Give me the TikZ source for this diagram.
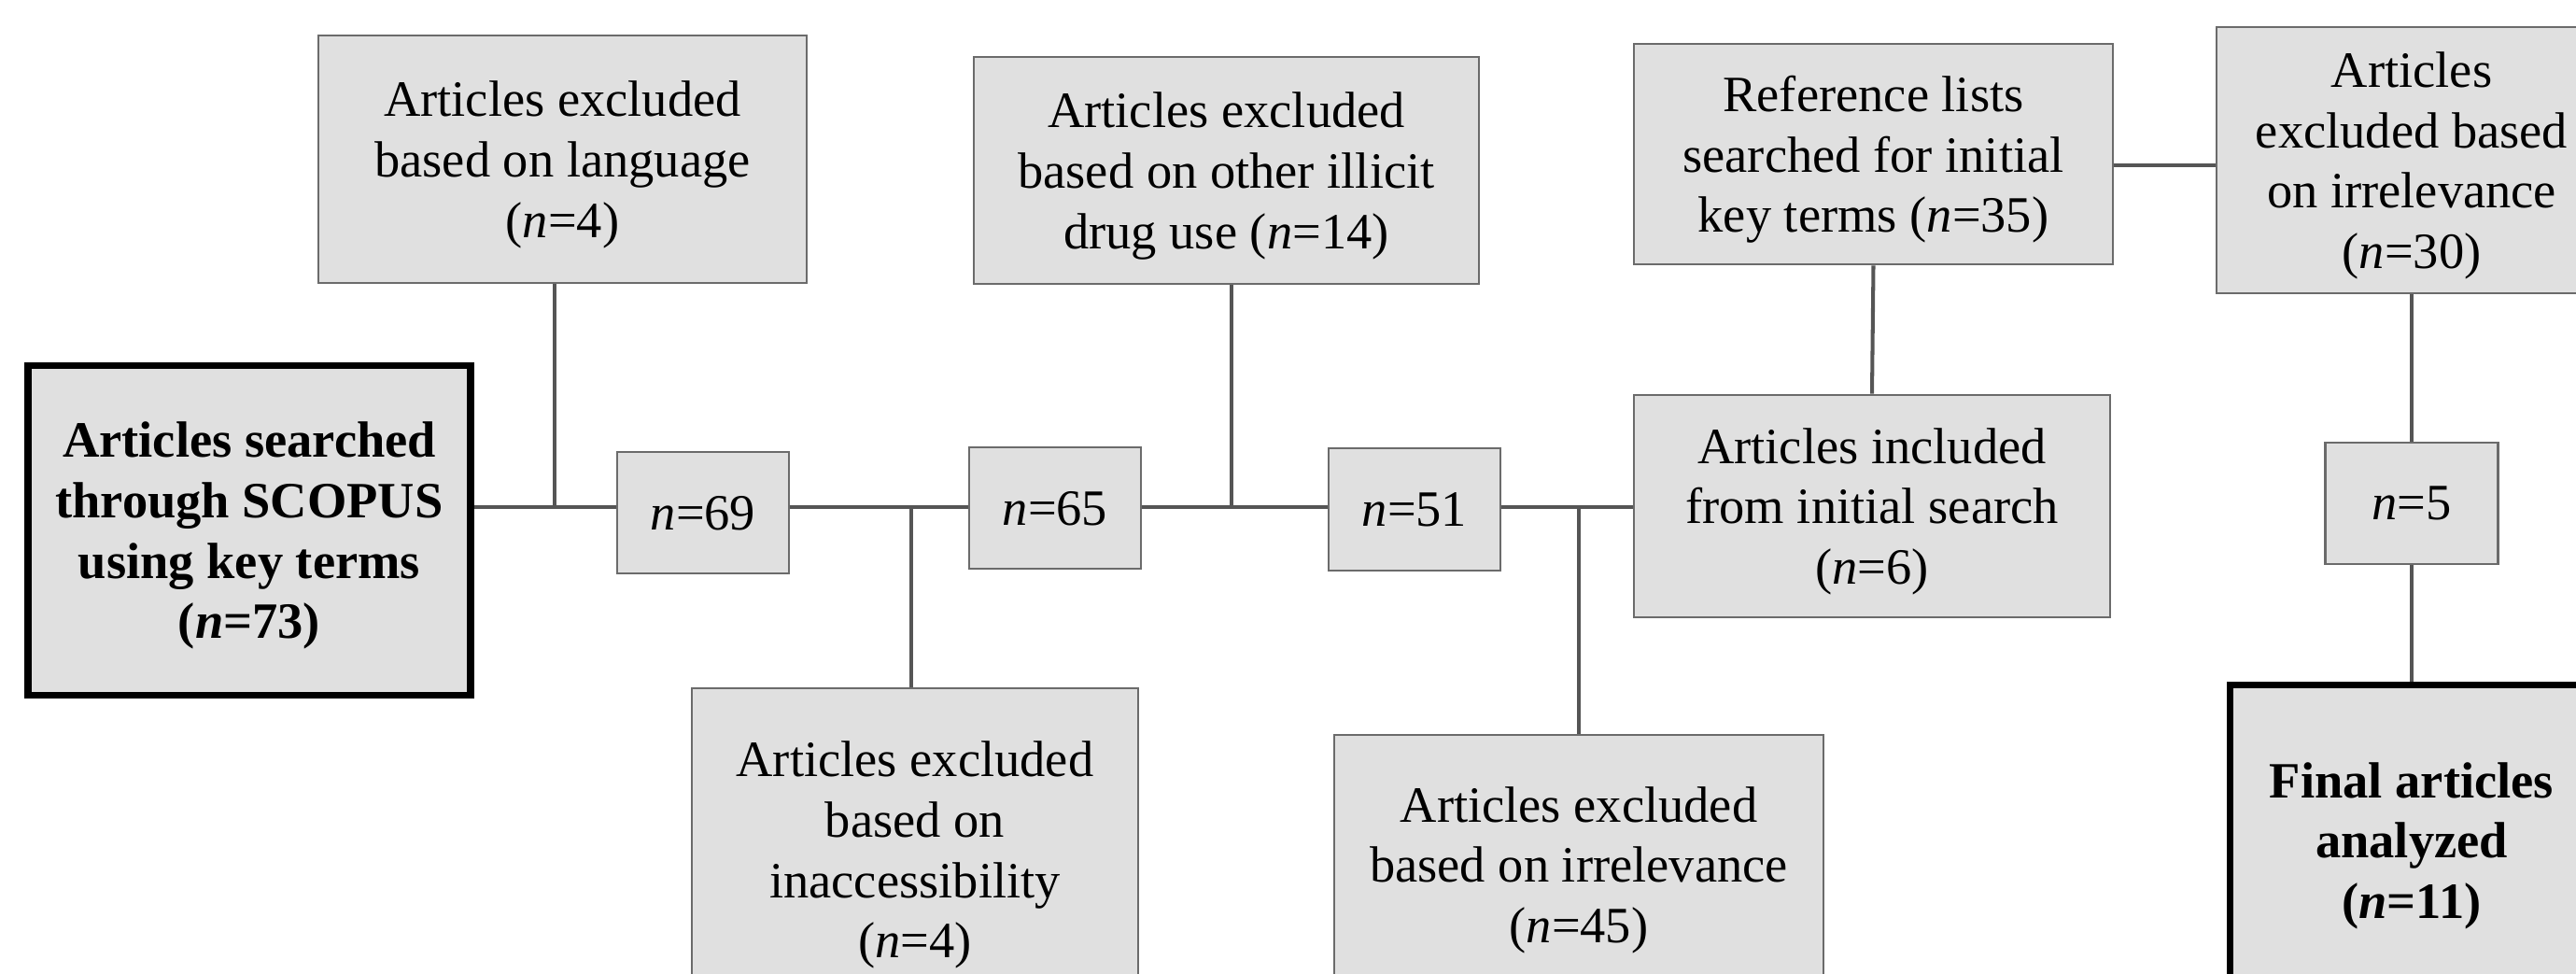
\documentclass[tikz,border=0pt]{standalone}
\usepackage{fontspec}
\setmainfont{Liberation Serif}
\usepackage{xcolor}

\definecolor{boxfill}{HTML}{E0E0E0}
\definecolor{boxline}{HTML}{6B6B6B}
\definecolor{linkgray}{HTML}{555555}

\begin{document}
\begin{tikzpicture}[font=\fontsize{15.5}{18.4}\selectfont,
  stage/.style={draw=boxline, line width=0.8pt, fill=boxfill,
    align=center, inner sep=0pt, text depth=0pt},
  keystage/.style={stage, draw=black, line width=2pt,
    font=\fontsize{15.5}{18.4}\selectfont\bfseries},
  link/.style={draw=linkgray, line width=1.15pt}]
  %% Canvas (bottom boxes run off the page)
  \useasboundingbox (0,0) rectangle (27.59,10.43);
  \clip (0,0) rectangle (27.59,10.43);

  %% Main row
  \node[keystage, minimum width=4.74cm, minimum height=3.53cm] (search)
    at (2.67,4.75) {Articles searched\\through SCOPUS\\using key terms\\(\textit{n}=73)};
  \node[stage, minimum width=1.84cm, minimum height=1.30cm] (n69)
    at (7.53,4.94) {\textit{n}=69};
  \node[stage, minimum width=1.84cm, minimum height=1.30cm] (n65)
    at (11.30,4.99) {\textit{n}=65};
  \node[stage, minimum width=1.84cm, minimum height=1.31cm] (n51)
    at (15.15,4.975) {\textit{n}=51};
  \node[stage, minimum width=5.10cm, minimum height=2.38cm] (initial)
    at (20.05,5.01) {Articles included\\from initial search\\(\textit{n}=6)};
  \node[stage, minimum width=1.85cm, minimum height=1.30cm] (n5)
    at (25.83,5.04) {\textit{n}=5};

  %% Exclusions above
  \node[stage, minimum width=5.23cm, minimum height=2.65cm] (lang)
    at (6.025,8.725) {Articles excluded\\based on language\\(\textit{n}=4)};
  \node[stage, minimum width=5.41cm, minimum height=2.43cm] (drugs)
    at (13.135,8.605) {Articles excluded\\based on other illicit\\drug use (\textit{n}=14)};
  \node[stage, minimum width=5.13cm, minimum height=2.36cm] (refs)
    at (20.065,8.78) {Reference lists\\searched for initial\\key terms (\textit{n}=35)};
  \node[stage, minimum width=4.18cm, minimum height=2.85cm] (refirrel)
    at (25.83,8.715) {Articles\\excluded based\\on irrelevance\\(\textit{n}=30)};

  %% Exclusions below
  \node[stage, minimum width=4.78cm, minimum height=3.46cm] (access)
    at (9.80,1.33) {Articles excluded\\based on\\inaccessibility\\(\textit{n}=4)};
  \node[stage, minimum width=5.24cm, minimum height=2.78cm] (irrel)
    at (16.91,1.17) {Articles excluded\\based on irrelevance\\(\textit{n}=45)};
  \node[keystage, minimum width=3.90cm, minimum height=3.32cm] (final)
    at (25.83,1.43) {Final articles\\analyzed\\(\textit{n}=11)};

  %% Spine
  \coordinate (spine) at (0,5.0);
  \draw[link] (search.east |- spine) -- (n69.west |- spine);
  \draw[link] (n69.east |- spine) -- (n65.west |- spine);
  \draw[link] (n65.east |- spine) -- (n51.west |- spine);
  \draw[link] (n51.east |- spine) -- (initial.west |- spine);

  %% Branches
  \draw[link] ([xshift=-0.085cm]lang.south) -- ([xshift=-0.085cm]lang.south |- spine);
  \draw[link] ([xshift=-0.04cm]access.north) -- ([xshift=-0.04cm]access.north |- spine);
  \draw[link] ([xshift=0.055cm]drugs.south) -- ([xshift=0.055cm]drugs.south |- spine);
  \draw[link] (irrel.north) -- (irrel.north |- spine);
  \draw[link] (refs.south) -- (initial.north);
  \draw[link] ([yshift=-0.12cm]refs.east) -- ([yshift=-0.12cm]refs.east -| refirrel.west);
  \draw[link] (refirrel.south) -- (n5.north);
  \draw[link] (n5.south) -- (final.north);
\end{tikzpicture}
\end{document}
